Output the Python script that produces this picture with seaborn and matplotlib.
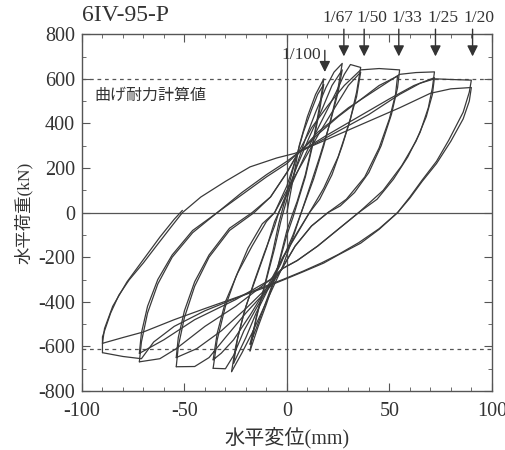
import pandas as pd
import matplotlib
matplotlib.use('Agg')
import matplotlib.pyplot as plt
import seaborn as sns

# Hysteresis loops, one list of (displacement mm, load kN) per cycle
cyc_100a = [(0, 0), (3, 150), (6, 300), (10, 430), (14, 530), (18, 600),
            (16, 480), (13, 330), (9, 170), (5, 50), (3, 0), (0, -80), (-3, -190),
            (-6, -300), (-10, -410), (-14, -510), (-18, -620)]
cyc_100b = [(-18, -620), (-15, -470), (-11, -330), (-7, -180), (-4, -50), (-2, 20), (0, 90),
            (4, 230), (8, 360), (12, 460), (15, 530), (18, 575),
            (16, 460), (13, 320), (9, 160), (5, 40), (3, -20), (0, -100), (-3, -200),
            (-7, -320), (-11, -420), (-15, -520), (-18, -590)]
cyc_67a = [(-18, -590), (-14, -440), (-10, -300), (-6, -160), (-3, -40), (0, 60), (4, 190),
           (9, 330), (14, 450), (19, 560), (23, 630), (27, 669),
           (25, 560), (22, 440), (18, 300), (13, 150), (7, 0), (3, -110), (-2, -240),
           (-7, -340), (-12, -440), (-17, -540), (-22, -630), (-27, -713)]
cyc_67b = [(-27, -713), (-25, -600), (-21, -450), (-16, -310), (-11, -180), (-6, -60), (-4, 0),
           (0, 90), (5, 210), (11, 340), (17, 460), (22, 570), (27, 640),
           (25, 540), (21, 400), (16, 250), (11, 110), (7, 0), (3, -100), (-3, -230),
           (-9, -340), (-15, -450), (-20, -560), (-26, -675)]
cyc_50a = [(-26, -675), (-24, -560), (-20, -420), (-15, -290), (-10, -160), (-6, -40), (-4, 0),
           (0, 80), (6, 200), (12, 320), (18, 430), (24, 540), (28, 620), (31, 664), (36, 651),
           (34, 540), (31, 420), (27, 300), (22, 170), (16, 60), (11, 0), (5, -90), (-2, -200),
           (-8, -320), (-15, -430), (-21, -530), (-26, -640), (-30, -700), (-36, -698)]
cyc_50b = [(-36, -698), (-34, -570), (-30, -420), (-25, -290), (-19, -160), (-12, -50), (-6, 0),
           (0, 100), (8, 230), (16, 360), (24, 480), (30, 570), (36, 630),
           (34, 520), (30, 390), (25, 250), (18, 110), (11, 0), (4, -110), (-3, -220),
           (-10, -340), (-18, -460), (-26, -570), (-32, -630), (-36, -660)]
cyc_33a = [(-36, -660), (-34, -540), (-30, -400), (-24, -270), (-17, -150), (-10, -40), (-6, 0),
           (0, 120), (5, 260), (12, 380), (20, 480), (28, 570), (36, 640), (45, 646), (55, 640),
           (54, 560), (51, 440), (46, 300), (40, 180), (33, 90), (26, 30), (20, 0), (12, -60),
           (4, -150), (-3, -260), (-8, -330), (-20, -450), (-30, -560), (-38, -650),
           (-45, -690), (-54, -691)]
cyc_33b = [(-54, -691), (-53, -600), (-50, -470), (-45, -330), (-38, -200), (-28, -80), (-16, 0),
           (-8, 70), (0, 180), (5, 260), (15, 350), (25, 430), (35, 500), (45, 570), (54, 612),
           (53, 530), (50, 420), (45, 290), (38, 160), (29, 60), (20, 0), (12, -60), (4, -150),
           (-3, -260), (-10, -340), (-20, -430), (-32, -530), (-44, -610), (-54, -650)]
cyc_25a = [(-54, -650), (-53, -560), (-50, -440), (-45, -310), (-38, -190), (-28, -70), (-17, 0),
           (-8, 70), (0, 180), (5, 260), (15, 360), (30, 470), (45, 560), (55, 620), (63, 628),
           (72, 631),
           (71, 560), (69, 470), (65, 360), (59, 250), (52, 150), (44, 60), (35, 0), (25, -75),
           (15, -150), (5, -215), (-2, -250), (-8, -300), (-25, -420), (-40, -510),
           (-54, -610), (-62, -655), (-72, -669)]
cyc_25b = [(-72, -669), (-71, -580), (-68, -450), (-63, -320), (-56, -200), (-46, -90), (-34, 0),
           (-22, 80), (-10, 160), (0, 220), (5, 265), (20, 350), (35, 430), (50, 510), (62, 570),
           (72, 605),
           (71, 530), (68, 430), (63, 320), (56, 210), (47, 100), (35, 0), (25, -75), (15, -150),
           (5, -215), (-2, -250), (-8, -300), (-25, -390), (-45, -480), (-60, -570), (-72, -631)]
cyc_20a = [(-72, -631), (-71, -540), (-68, -420), (-63, -300), (-56, -190), (-46, -80), (-34, 0),
           (-22, 90), (-10, 170), (0, 230), (5, 265), (20, 340), (40, 440), (55, 530), (65, 580),
           (72, 600), (80, 597), (90, 594),
           (89, 540), (86, 450), (79, 325), (73, 230), (66, 146), (60, 70), (54, 0), (45, -75),
           (36, -137), (25, -190), (18, -226), (8, -265), (-2, -303), (-12, -340), (-23, -377),
           (-40, -440), (-55, -510), (-65, -580), (-71, -655), (-80, -645), (-90, -628)]
cyc_20b = [(-90, -628), (-90, -557), (-86, -450), (-82, -370), (-77, -302), (-70, -225),
           (-64, -153), (-57, -70), (-51, 0), (-42, 70), (-30, 140), (-18, 205), (-5, 245),
           (4, 266), (20, 330), (40, 410), (55, 470), (70, 535), (80, 555), (90, 561),
           (89, 500), (86, 420), (80, 320), (73, 220), (66, 140), (60, 65), (54, 0), (45, -72),
           (35, -135), (25, -188), (17, -225), (8, -262), (-2, -300), (-12, -335), (-23, -375),
           (-40, -430), (-55, -480), (-70, -535), (-80, -560), (-90, -586)]
cyc_end = [(-90, -586), (-89, -520), (-85, -420), (-78, -310), (-70, -210), (-62, -110),
           (-55, -30), (-51, 10)]

cycles = [cyc_100a, cyc_100b, cyc_67a, cyc_67b, cyc_50a, cyc_50b,
          cyc_33a, cyc_33b, cyc_25a, cyc_25b, cyc_20a, cyc_20b, cyc_end]

# drift angle markers (arrow at the target displacement, label above the frame)
drift_labels = ['1/67', '1/50', '1/33', '1/25', '1/20']
drift_disp = [27.8, 37.7, 54.6, 72.5, 90.6]
drift_label_x = [24.9, 41.5, 58.5, 76.1, 93.7]
calc_strength_pos = 597
calc_strength_neg = -612

rows = []
for i, cyc in enumerate(cycles):
    for k, (d, p) in enumerate(cyc):
        rows.append({'disp': d, 'load': p, 'cycle': i, 'order': k})
df = pd.DataFrame(rows)

sns.set_style('ticks')
plt.rcParams['font.family'] = ['Liberation Serif', 'Noto Sans CJK JP']
plt.rcParams['axes.unicode_minus'] = False

fig = plt.figure(figsize=(5.06, 4.5), dpi=100)
ax = fig.add_axes([0.162, 0.131, 0.81, 0.793])

line_col = '#3a3a3a'
text_col = '#333333'
ax.axhline(0, color='#555555', lw=0.9, zorder=1)
ax.axvline(0, color='#555555', lw=0.9, zorder=1)
ax.axhline(calc_strength_pos, color='#555555', lw=0.9, ls=(0, (3, 3)), zorder=1)
ax.axhline(calc_strength_neg, color='#555555', lw=0.9, ls=(0, (3, 3)), zorder=1)

sns.lineplot(data=df, x='disp', y='load', units='cycle', estimator=None, sort=False,
             color=line_col, lw=0.9, ax=ax, legend=False)

ax.set_xlim(-100, 100)
ax.set_ylim(-800, 800)
ax.set_xticks([-100, -50, 0, 50, 100])
ax.set_xticks(range(-100, 101, 10), minor=True)
ax.set_yticks(range(-800, 801, 200))
ax.set_yticks(range(-800, 801, 100), minor=True)
ax.tick_params(which='both', direction='in', top=True, right=True, colors='#555555',
               labelcolor=text_col, labelsize=14.5)
ax.tick_params(which='major', length=6, pad=5)
ax.tick_params(which='minor', length=3)
ax.tick_params(axis='x', which='major', pad=8)
for s in ax.spines.values():
    s.set_color('#555555')
    s.set_linewidth(1.0)

ax.set_xlabel('水平変位(mm)', fontsize=14.5, color=text_col, labelpad=4)
ax.set_ylabel('水平荷重(kN)', fontsize=12.5, color=text_col, labelpad=4)

ax.text(-100, 835, '6IV-95-P', fontsize=17, color=text_col, ha='left', va='bottom')
ax.text(-94, 527, '曲げ耐力計算値', fontsize=11.5, color=text_col, ha='left', va='center',
        family=['Noto Sans CJK JP'])

arrow_kw = dict(arrowstyle='-|>', color=text_col, lw=1.0, mutation_scale=16)
for lab, d, lx in zip(drift_labels, drift_disp, drift_label_x):
    ax.annotate('', xy=(d, 688), xytext=(d, 835), arrowprops=arrow_kw, annotation_clip=False)
    ax.text(lx, 872, lab, fontsize=12.5, color=text_col, ha='center', va='center',
            clip_on=False)
ax.annotate('', xy=(18.5, 618), xytext=(18.5, 740), arrowprops=arrow_kw, annotation_clip=False)
ax.text(7, 706, '1/100', fontsize=12.5, color=text_col, ha='center', va='center')

fig.savefig('out.png', dpi=100, facecolor='white')
